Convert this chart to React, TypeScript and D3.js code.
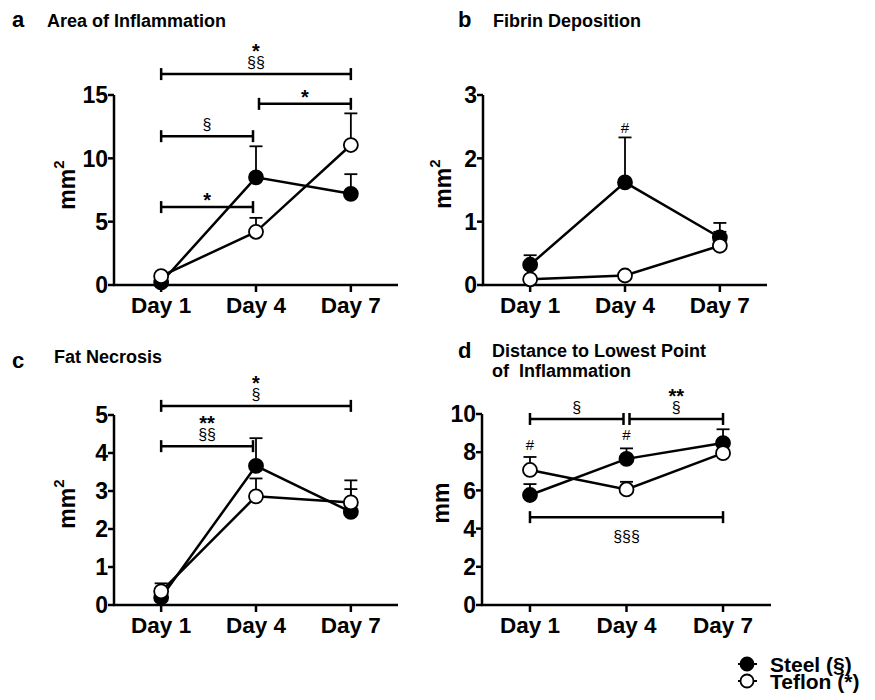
import * as d3 from "d3";

const DAYS = ["Day 1", "Day 4", "Day 7"];

// a — Area of Inflammation (mm²)
const AREA_STEEL = [0.2, 8.5, 7.2];
const AREA_STEEL_SEM = [0.1, 2.45, 1.55];
const AREA_TEFLON = [0.7, 4.2, 11.05];
const AREA_TEFLON_SEM = [0.15, 1.1, 2.5];
const AREA_TICKS = [0, 5, 10, 15];

// b — Fibrin Deposition (mm²)
const FIBRIN_STEEL = [0.32, 1.62, 0.75];
const FIBRIN_STEEL_SEM = [0.15, 0.71, 0.23];
const FIBRIN_TEFLON = [0.09, 0.15, 0.62];
const FIBRIN_TEFLON_SEM = [0.03, 0.03, 0.22];
const FIBRIN_TICKS = [0, 1, 2, 3];

// c — Fat Necrosis (mm²)
const FAT_STEEL = [0.2, 3.66, 2.45];
const FAT_STEEL_SEM = [0.1, 0.73, 0.6];
const FAT_TEFLON = [0.36, 2.86, 2.7];
const FAT_TEFLON_SEM = [0.21, 0.47, 0.58];
const FAT_TICKS = [0, 1, 2, 3, 4, 5];

// d — Distance to lowest point of inflammation (mm)
const DIST_STEEL = [5.76, 7.65, 8.48];
const DIST_STEEL_SEM = [0.57, 0.55, 0.72];
const DIST_TEFLON = [7.07, 6.05, 7.95];
const DIST_TEFLON_SEM = [0.68, 0.4, 0.15];
const DIST_TICKS = [0, 2, 4, 6, 8, 10];

type Bracket = { from: string; to: string; y: number; above: string[]; below?: string[] };
type Hash = { day: string; y: number };

const AREA_BRACKETS: Bracket[] = [
  { from: "Day 1", to: "Day 7", y: 16.65, above: ["*", "§§"] },
  { from: "Day 4", to: "Day 7", y: 14.3, above: ["*"] },
  { from: "Day 1", to: "Day 4", y: 11.75, above: ["§"] },
  { from: "Day 1", to: "Day 4", y: 6.15, above: ["*"] },
];
const FIBRIN_HASHES: Hash[] = [{ day: "Day 4", y: 2.49 }];
const FAT_BRACKETS: Bracket[] = [
  { from: "Day 1", to: "Day 7", y: 5.24, above: ["*", "§"] },
  { from: "Day 1", to: "Day 4", y: 4.18, above: ["**", "§§"] },
];
const DIST_BRACKETS: Bracket[] = [
  { from: "Day 1", to: "Day 4", y: 9.74, above: ["§"] },
  { from: "Day 4", to: "Day 7", y: 9.74, above: ["**", "§"] },
  { from: "Day 1", to: "Day 7", y: 4.6, above: [], below: ["§§§"] },
];
const DIST_HASHES: Hash[] = [
  { day: "Day 1", y: 8.38 },
  { day: "Day 4", y: 8.9 },
];

const FONT = "'Liberation Sans', Arial, Helvetica, sans-serif";

interface Layout {
  x0: number;
  x1: number;
  yTop: number;
  yBot: number;
  labelX: number;
  labelY: number;
  letterX: number;
  letterY: number;
  titleX: number;
  titleY: number;
}

interface PanelProps {
  letter: string;
  title: string[];
  unit: string;
  sup?: string;
  ticks: number[];
  steel: number[];
  steelSem: number[];
  teflon: number[];
  teflonSem: number[];
  brackets?: Bracket[];
  hashes?: Hash[];
  layout: Layout;
}

// font size / weight and the shift from the glyph's visual centre to its baseline
function glyph(label: string) {
  if (label.includes("*")) return { fs: 20, weight: "bold", k: 0.56 };
  if (label.includes("#")) return { fs: 15, weight: "normal", k: 0.36 };
  return { fs: 16, weight: "normal", k: 0.3 };
}

// a stack of significance marks (top to bottom), drawn as one text element
function SigStack({ labels, x, centers }: { labels: string[]; x: number; centers: number[] }) {
  return (
    <text textAnchor="middle" fontFamily={FONT}>
      {labels.map((lab, i) => {
        const g = glyph(lab);
        return (
          <tspan key={i} x={x} y={centers[i] + g.k * g.fs} fontSize={g.fs} fontWeight={g.weight}>
            {lab}
          </tspan>
        );
      })}
    </text>
  );
}

function Panel(p: PanelProps) {
  const L = p.layout;
  const w = L.x1 - L.x0;
  const x = d3.scalePoint<string>().domain(DAYS).range([L.x0 + w * 0.166, L.x0 + w * 0.834]);
  const yMax = p.ticks[p.ticks.length - 1];
  const y = d3.scaleLinear().domain([0, yMax]).range([L.yBot, L.yTop]);

  const line = d3
    .line<number>()
    .x((_, i) => x(DAYS[i])!)
    .y((d) => y(d));

  const series = [
    { vals: p.steel, sem: p.steelSem, fill: "#000" },
    { vals: p.teflon, sem: p.teflonSem, fill: "#fff" },
  ];

  return (
    <g>
      {/* titles */}
      <text x={L.letterX} y={L.letterY} fontSize={22} fontWeight="bold" fontFamily={FONT}>
        {p.letter}
      </text>
      {p.title.map((t, i) => (
        <text
          key={i}
          x={L.titleX}
          y={L.titleY + i * 20}
          fontSize={18}
          fontWeight="bold"
          fontFamily={FONT}
          style={{ whiteSpace: "pre" }}
        >
          {t}
        </text>
      ))}

      {/* y label */}
      <text
        transform={`translate(${L.labelX},${L.labelY}) rotate(-90)`}
        textAnchor="middle"
        fontSize={23}
        fontWeight="bold"
        fontFamily={FONT}
      >
        {p.unit}
        {p.sup && (
          <tspan fontSize={15} dy={-11}>
            {p.sup}
          </tspan>
        )}
      </text>

      {/* axes */}
      <line x1={L.x0} x2={L.x0} y1={L.yBot} y2={L.yTop} stroke="#000" strokeWidth={2.5} />
      <line x1={L.x0 - 1} x2={L.x1} y1={L.yBot} y2={L.yBot} stroke="#000" strokeWidth={2.5} />
      {p.ticks.map((t) => (
        <g key={t}>
          <line x1={L.x0 - 6} x2={L.x0} y1={y(t)} y2={y(t)} stroke="#000" strokeWidth={2.5} />
          <text
            x={L.x0 - 6}
            y={y(t)}
            dy="0.36em"
            textAnchor="end"
            fontSize={23}
            fontWeight="bold"
            fontFamily={FONT}
          >
            {t}
          </text>
        </g>
      ))}
      {DAYS.map((d) => (
        <g key={d}>
          <line x1={x(d)} x2={x(d)} y1={L.yBot} y2={L.yBot + 7} stroke="#000" strokeWidth={2.5} />
          <text
            x={x(d)}
            y={L.yBot + 28}
            textAnchor="middle"
            fontSize={22.5}
            fontWeight="bold"
            fontFamily={FONT}
          >
            {d}
          </text>
        </g>
      ))}

      {/* error bars (upper only) */}
      {series.map((s, si) =>
        s.vals.map((v, i) => {
          const cx = x(DAYS[i])!;
          const top = y(v + s.sem[i]);
          return (
            <g key={`e${si}-${i}`}>
              <line x1={cx} x2={cx} y1={y(v)} y2={top} stroke="#000" strokeWidth={1.8} />
              <line x1={cx - 6.5} x2={cx + 6.5} y1={top} y2={top} stroke="#000" strokeWidth={1.8} />
            </g>
          );
        })
      )}

      {/* lines + markers */}
      {series.map((s, si) => (
        <path key={`s${si}`} d={line(s.vals)!} fill="none" stroke="#000" strokeWidth={2.5} />
      ))}
      {series.map((s, si) => (
        <g key={`m${si}`}>
          {s.vals.map((v, i) => (
            <circle
              key={i}
              cx={x(DAYS[i])}
              cy={y(v)}
              r={7}
              fill={s.fill}
              stroke="#000"
              strokeWidth={1.8}
            />
          ))}
        </g>
      ))}

      {/* significance brackets */}
      {(p.brackets ?? []).map((b, bi) => {
        let bx1 = x(b.from)!;
        let bx2 = x(b.to)!;
        if (b.to === "Day 4") bx2 -= 3;
        if (b.from === "Day 4") bx1 += 3;
        const by = y(b.y);
        const mid = (bx1 + bx2) / 2;
        const n = b.above.length;
        const below = b.below ?? [];
        return (
          <g key={`b${bi}`}>
            <line x1={bx1} x2={bx2} y1={by} y2={by} stroke="#000" strokeWidth={2.5} />
            <line x1={bx1} x2={bx1} y1={by - 6} y2={by + 6} stroke="#000" strokeWidth={2.5} />
            <line x1={bx2} x2={bx2} y1={by - 6} y2={by + 6} stroke="#000" strokeWidth={2.5} />
            {n > 0 && (
              <SigStack
                labels={b.above}
                x={mid}
                centers={b.above.map((_, li) => by - 11 - (n - 1 - li) * 16)}
              />
            )}
            {below.length > 0 && (
              <SigStack labels={below} x={mid} centers={below.map((_, li) => by + 20 + li * 16)} />
            )}
          </g>
        );
      })}
      {(p.hashes ?? []).map((h, hi) => (
        <SigStack key={`h${hi}`} labels={["#"]} x={x(h.day)!} centers={[y(h.y)]} />
      ))}
    </g>
  );
}

function Legend() {
  const items = [
    { label: "Steel (§)", fill: "#000", cy: 664 },
    { label: "Teflon (*)", fill: "#fff", cy: 681 },
  ];
  return (
    <g>
      {items.map((it) => (
        <g key={it.label}>
          <line x1={738} x2={757} y1={it.cy} y2={it.cy} stroke="#000" strokeWidth={2} />
          <circle cx={747} cy={it.cy} r={6.5} fill={it.fill} stroke="#000" strokeWidth={1.8} />
          <text x={770} y={it.cy} dy="0.36em" fontSize={21} fontWeight="bold" fontFamily={FONT}>
            {it.label}
          </text>
        </g>
      ))}
    </g>
  );
}

export default function App() {
  return (
    <svg
      width={875}
      height={700}
      viewBox="0 0 875 700"
      style={{ position: "absolute", left: 0, top: 0, background: "#fff" }}
    >
      <rect width={875} height={700} fill="#fff" />
      <Panel
        letter="a"
        title={["Area of Inflammation"]}
        unit="mm"
        sup="2"
        ticks={AREA_TICKS}
        steel={AREA_STEEL}
        steelSem={AREA_STEEL_SEM}
        teflon={AREA_TEFLON}
        teflonSem={AREA_TEFLON_SEM}
        brackets={AREA_BRACKETS}
        layout={{ x0: 114, x1: 398, yTop: 95, yBot: 285, labelX: 75, labelY: 185, letterX: 12, letterY: 27, titleX: 47, titleY: 27 }}
      />
      <Panel
        letter="b"
        title={["Fibrin Deposition"]}
        unit="mm"
        sup="2"
        ticks={FIBRIN_TICKS}
        steel={FIBRIN_STEEL}
        steelSem={FIBRIN_STEEL_SEM}
        teflon={FIBRIN_TEFLON}
        teflonSem={FIBRIN_TEFLON_SEM}
        hashes={FIBRIN_HASHES}
        layout={{ x0: 483, x1: 767, yTop: 95, yBot: 285, labelX: 451, labelY: 184, letterX: 458, letterY: 27, titleX: 493, titleY: 27 }}
      />
      <Panel
        letter="c"
        title={["Fat Necrosis"]}
        unit="mm"
        sup="2"
        ticks={FAT_TICKS}
        steel={FAT_STEEL}
        steelSem={FAT_STEEL_SEM}
        teflon={FAT_TEFLON}
        teflonSem={FAT_TEFLON_SEM}
        brackets={FAT_BRACKETS}
        layout={{ x0: 114, x1: 398, yTop: 415, yBot: 605, labelX: 75, labelY: 504, letterX: 12, letterY: 368, titleX: 54, titleY: 363 }}
      />
      <Panel
        letter="d"
        title={["Distance to Lowest Point", "of  Inflammation"]}
        unit="mm"
        ticks={DIST_TICKS}
        steel={DIST_STEEL}
        steelSem={DIST_STEEL_SEM}
        teflon={DIST_TEFLON}
        teflonSem={DIST_TEFLON_SEM}
        brackets={DIST_BRACKETS}
        hashes={DIST_HASHES}
        layout={{ x0: 482, x1: 771, yTop: 414, yBot: 605, labelX: 449, labelY: 503, letterX: 458, letterY: 358, titleX: 492, titleY: 357 }}
      />
      <Legend />
    </svg>
  );
}
